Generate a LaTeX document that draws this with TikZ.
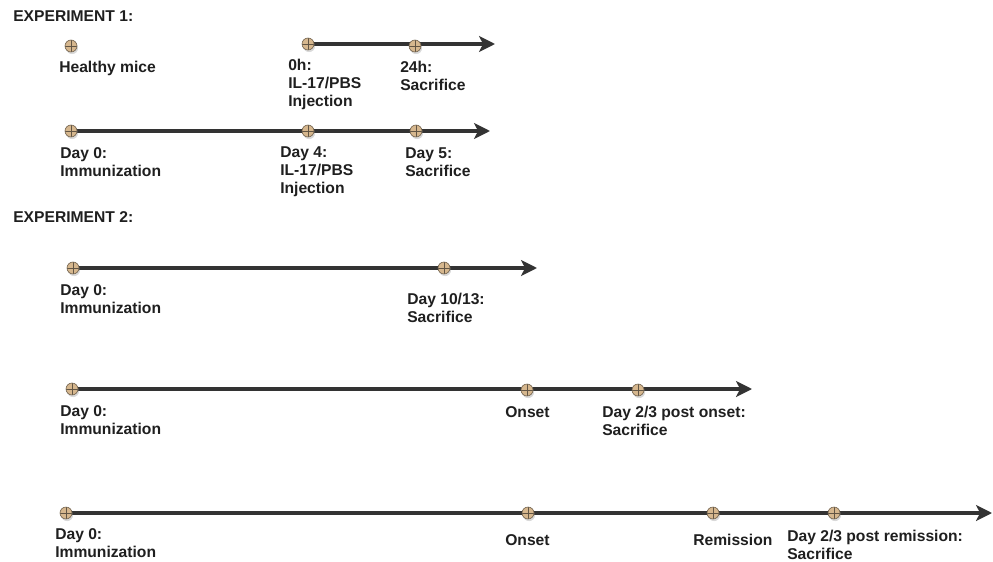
\documentclass[tikz,border=0pt]{standalone}
\usepackage{fontspec}
\setmainfont{Liberation Sans}
\usetikzlibrary{arrows.meta,shadows,backgrounds}
\definecolor{axisgray}{HTML}{333333}
\definecolor{pintan}{HTML}{D6B78E}
\definecolor{pinrim}{HTML}{7A6A55}
\begin{document}
\begin{tikzpicture}[
  x=0.0265cm, y=-0.0265cm, font=\fontsize{11.8}{13.6}\selectfont\bfseries,
  tickdot/.style={circle, draw=pinrim, line width=0.5pt, fill=pintan,
    minimum size=9pt, inner sep=0pt,
    drop shadow={shadow xshift=0.8pt, shadow yshift=-1.6pt, opacity=0.3, fill=gray},
    path picture={\draw[pinrim!80!black, line width=0.6pt]
      (path picture bounding box.north) -- (path picture bounding box.south)
      (path picture bounding box.west) -- (path picture bounding box.east);}},
  timeline/.style={draw=axisgray, line width=2.5pt,
    -{Stealth[length=12pt, width=12pt, inset=3pt]}},
  lbl/.style={anchor=north west, inner sep=0pt, align=left, text=black!88},
  heading/.style={anchor=west, inner sep=0pt, text=black!88}
]
  \useasboundingbox (0,0) rectangle (993,562);

  %% ============================================ experiment 1
  \node[heading] (exp1) at (13,16) {EXPERIMENT 1:};

  % healthy mice, no time axis
  \node[tickdot] (hm) at (71,46) {};
  \node[lbl] (hmlab) at (59,61) {Healthy mice};

  % IL-17 injection in healthy mice
  \node[tickdot] (h0) at (308,44) {};
  \node[tickdot] (h24) at (415,46) {};
  \coordinate (h1end) at (495,44);
  \begin{pgfonlayer}{background}
    \draw[timeline] (h0.center) -- (h1end);
  \end{pgfonlayer}
  \node[lbl] (h0lab) at (288,59) {0h:\\IL-17/PBS\\Injection};
  \node[lbl] (h24lab) at (400,61) {24h:\\Sacrifice};

  % IL-17 injection after immunization
  \node[tickdot] (a0) at (71,131) {};
  \node[tickdot] (a4) at (308,131) {};
  \node[tickdot] (a5) at (416,131) {};
  \coordinate (a1end) at (490,131);
  \begin{pgfonlayer}{background}
    \draw[timeline] (a0.center) -- (a1end);
  \end{pgfonlayer}
  \node[lbl] (a0lab) at (60,147) {Day 0:\\Immunization};
  \node[lbl] (a4lab) at (280,146) {Day 4:\\IL-17/PBS\\Injection};
  \node[lbl] (a5lab) at (405,147) {Day 5:\\Sacrifice};

  %% ============================================ experiment 2
  \node[heading] (exp2) at (13,217) {EXPERIMENT 2:};

  % peak of disease
  \node[tickdot] (b0) at (73,268) {};
  \node[tickdot] (b10) at (444,268) {};
  \coordinate (b1end) at (537,268);
  \begin{pgfonlayer}{background}
    \draw[timeline] (b0.center) -- (b1end);
  \end{pgfonlayer}
  \node[lbl] (b0lab) at (60,284) {Day 0:\\Immunization};
  \node[lbl] (b10lab) at (407,293) {Day 10/13:\\Sacrifice};

  % after onset
  \node[tickdot] (c0) at (72,389) {};
  \node[tickdot] (con) at (527,390) {};
  \node[tickdot] (c23) at (638,390) {};
  \coordinate (c1end) at (752,389);
  \begin{pgfonlayer}{background}
    \draw[timeline] (c0.center) -- (c1end);
  \end{pgfonlayer}
  \node[lbl] (c0lab) at (60,405) {Day 0:\\Immunization};
  \node[lbl] (conlab) at (505,406) {Onset};
  \node[lbl] (c23lab) at (602,406) {Day 2/3 post onset:\\Sacrifice};

  % after remission
  \node[tickdot] (d0) at (66,513) {};
  \node[tickdot] (don) at (528,513) {};
  \node[tickdot] (drem) at (713,513) {};
  \node[tickdot] (d23) at (834,513) {};
  \coordinate (d1end) at (992,513);
  \begin{pgfonlayer}{background}
    \draw[timeline] (d0.center) -- (d1end);
  \end{pgfonlayer}
  \node[lbl] (d0lab) at (55,528) {Day 0:\\Immunization};
  \node[lbl] (donlab) at (505,534) {Onset};
  \node[lbl] (dremlab) at (693,534) {Remission};
  \node[lbl] (d23lab) at (787,530) {Day 2/3 post remission:\\Sacrifice};

\end{tikzpicture}
\end{document}
